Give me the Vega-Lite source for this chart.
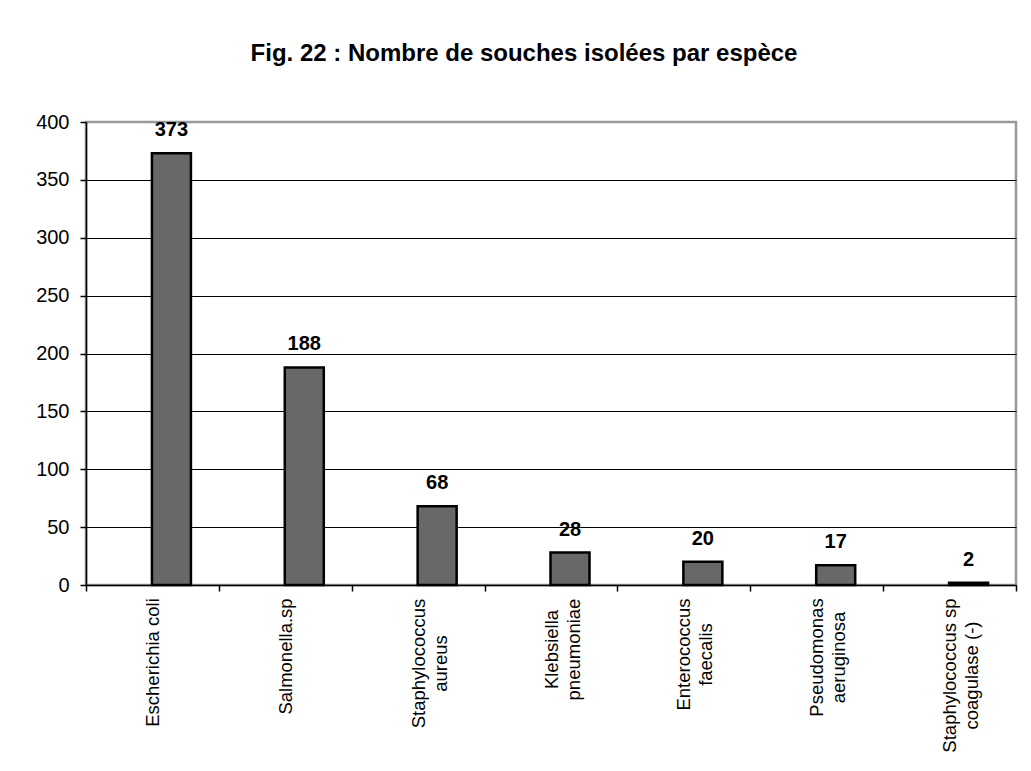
{
  "$schema": "https://vega.github.io/schema/vega-lite/v6.json",
  "width": 930,
  "height": 463,
  "autosize": {"type": "none"},
  "padding": {"left": 86, "top": 122, "right": 15, "bottom": 186},
  "background": "white",
  "title": {
    "text": "Fig. 22 : Nombre de souches isolées par espèce",
    "font": "Liberation Sans",
    "fontSize": 24,
    "fontWeight": "bold",
    "color": "black",
    "anchor": "middle",
    "dx": -27,
    "offset": 46
  },
  "data": {
    "values": [
      {"espece": "Escherichia coli", "n": 373},
      {"espece": "Salmonella.sp", "n": 188},
      {"espece": "Staphylococcus aureus", "n": 68},
      {"espece": "Klebsiella pneumoniae", "n": 28},
      {"espece": "Enterococcus faecalis", "n": 20},
      {"espece": "Pseudomonas aeruginosa", "n": 17},
      {"espece": "Staphylococcus sp coagulase (-)", "n": 2}
    ]
  },
  "encoding": {
    "x": {
      "field": "espece",
      "type": "nominal",
      "sort": null,
      "scale": {"paddingInner": 0, "paddingOuter": 0},
      "axis": {
        "title": null,
        "labelAngle": -90,
        "labelAlign": "center",
        "labelBaseline": "middle",
        "labelFont": "Liberation Sans",
        "labelFontSize": 18.5,
        "labelColor": "black",
        "labelLineHeight": 22,
        "labelPadding": {
          "condition": [
            {"test": "datum.value == 'Escherichia coli'", "value": 71},
            {"test": "datum.value == 'Salmonella.sp'", "value": 65},
            {"test": "datum.value == 'Staphylococcus aureus'", "value": 72},
            {"test": "datum.value == 'Klebsiella pneumoniae'", "value": 58},
            {"test": "datum.value == 'Enterococcus faecalis'", "value": 63},
            {"test": "datum.value == 'Pseudomonas aeruginosa'", "value": 66}
          ],
          "value": 84
        },
        "labelOverlap": false,
        "labelLimit": 0,
        "labelExpr": "indexof(['Escherichia coli','Salmonella.sp'], datum.label) >= 0 ? datum.label : (datum.label == 'Staphylococcus sp coagulase (-)' ? ['Staphylococcus sp','coagulase (-)'] : split(datum.label, ' '))",
        "domainColor": "black",
        "domainWidth": 1.5,
        "tickColor": "black",
        "tickSize": 6,
        "tickWidth": 1.5,
        "tickBand": "extent",
        "grid": false
      }
    },
    "y": {
      "field": "n",
      "type": "quantitative",
      "scale": {"domain": [0, 400], "nice": false},
      "axis": {
        "title": null,
        "values": [0, 50, 100, 150, 200, 250, 300, 350, 400],
        "labelFont": "Liberation Sans",
        "labelFontSize": 20,
        "labelColor": "black",
        "labelPadding": 11,
        "domainColor": "black",
        "domainWidth": 1.5,
        "tickColor": "black",
        "tickSize": 6,
        "tickWidth": 1.5,
        "grid": true,
        "gridColor": {"condition": {"test": "datum.value === 400", "value": "#999999"}, "value": "black"},
        "gridOpacity": 1,
        "gridWidth": 1
      }
    }
  },
  "layer": [
    {
      "mark": {
        "type": "bar",
        "width": 39,
        "xOffset": 19,
        "fill": "#686868",
        "stroke": "black",
        "strokeWidth": 2.5
      }
    },
    {
      "mark": {
        "type": "text",
        "xOffset": 19,
        "dy": -17,
        "baseline": "alphabetic",
        "font": "Liberation Sans",
        "fontSize": 20,
        "fontWeight": "bold",
        "color": "black"
      },
      "encoding": {"text": {"field": "n", "type": "quantitative"}}
    }
  ],
  "config": {
    "view": {"stroke": "#999999", "strokeWidth": 2.5}
  }
}
